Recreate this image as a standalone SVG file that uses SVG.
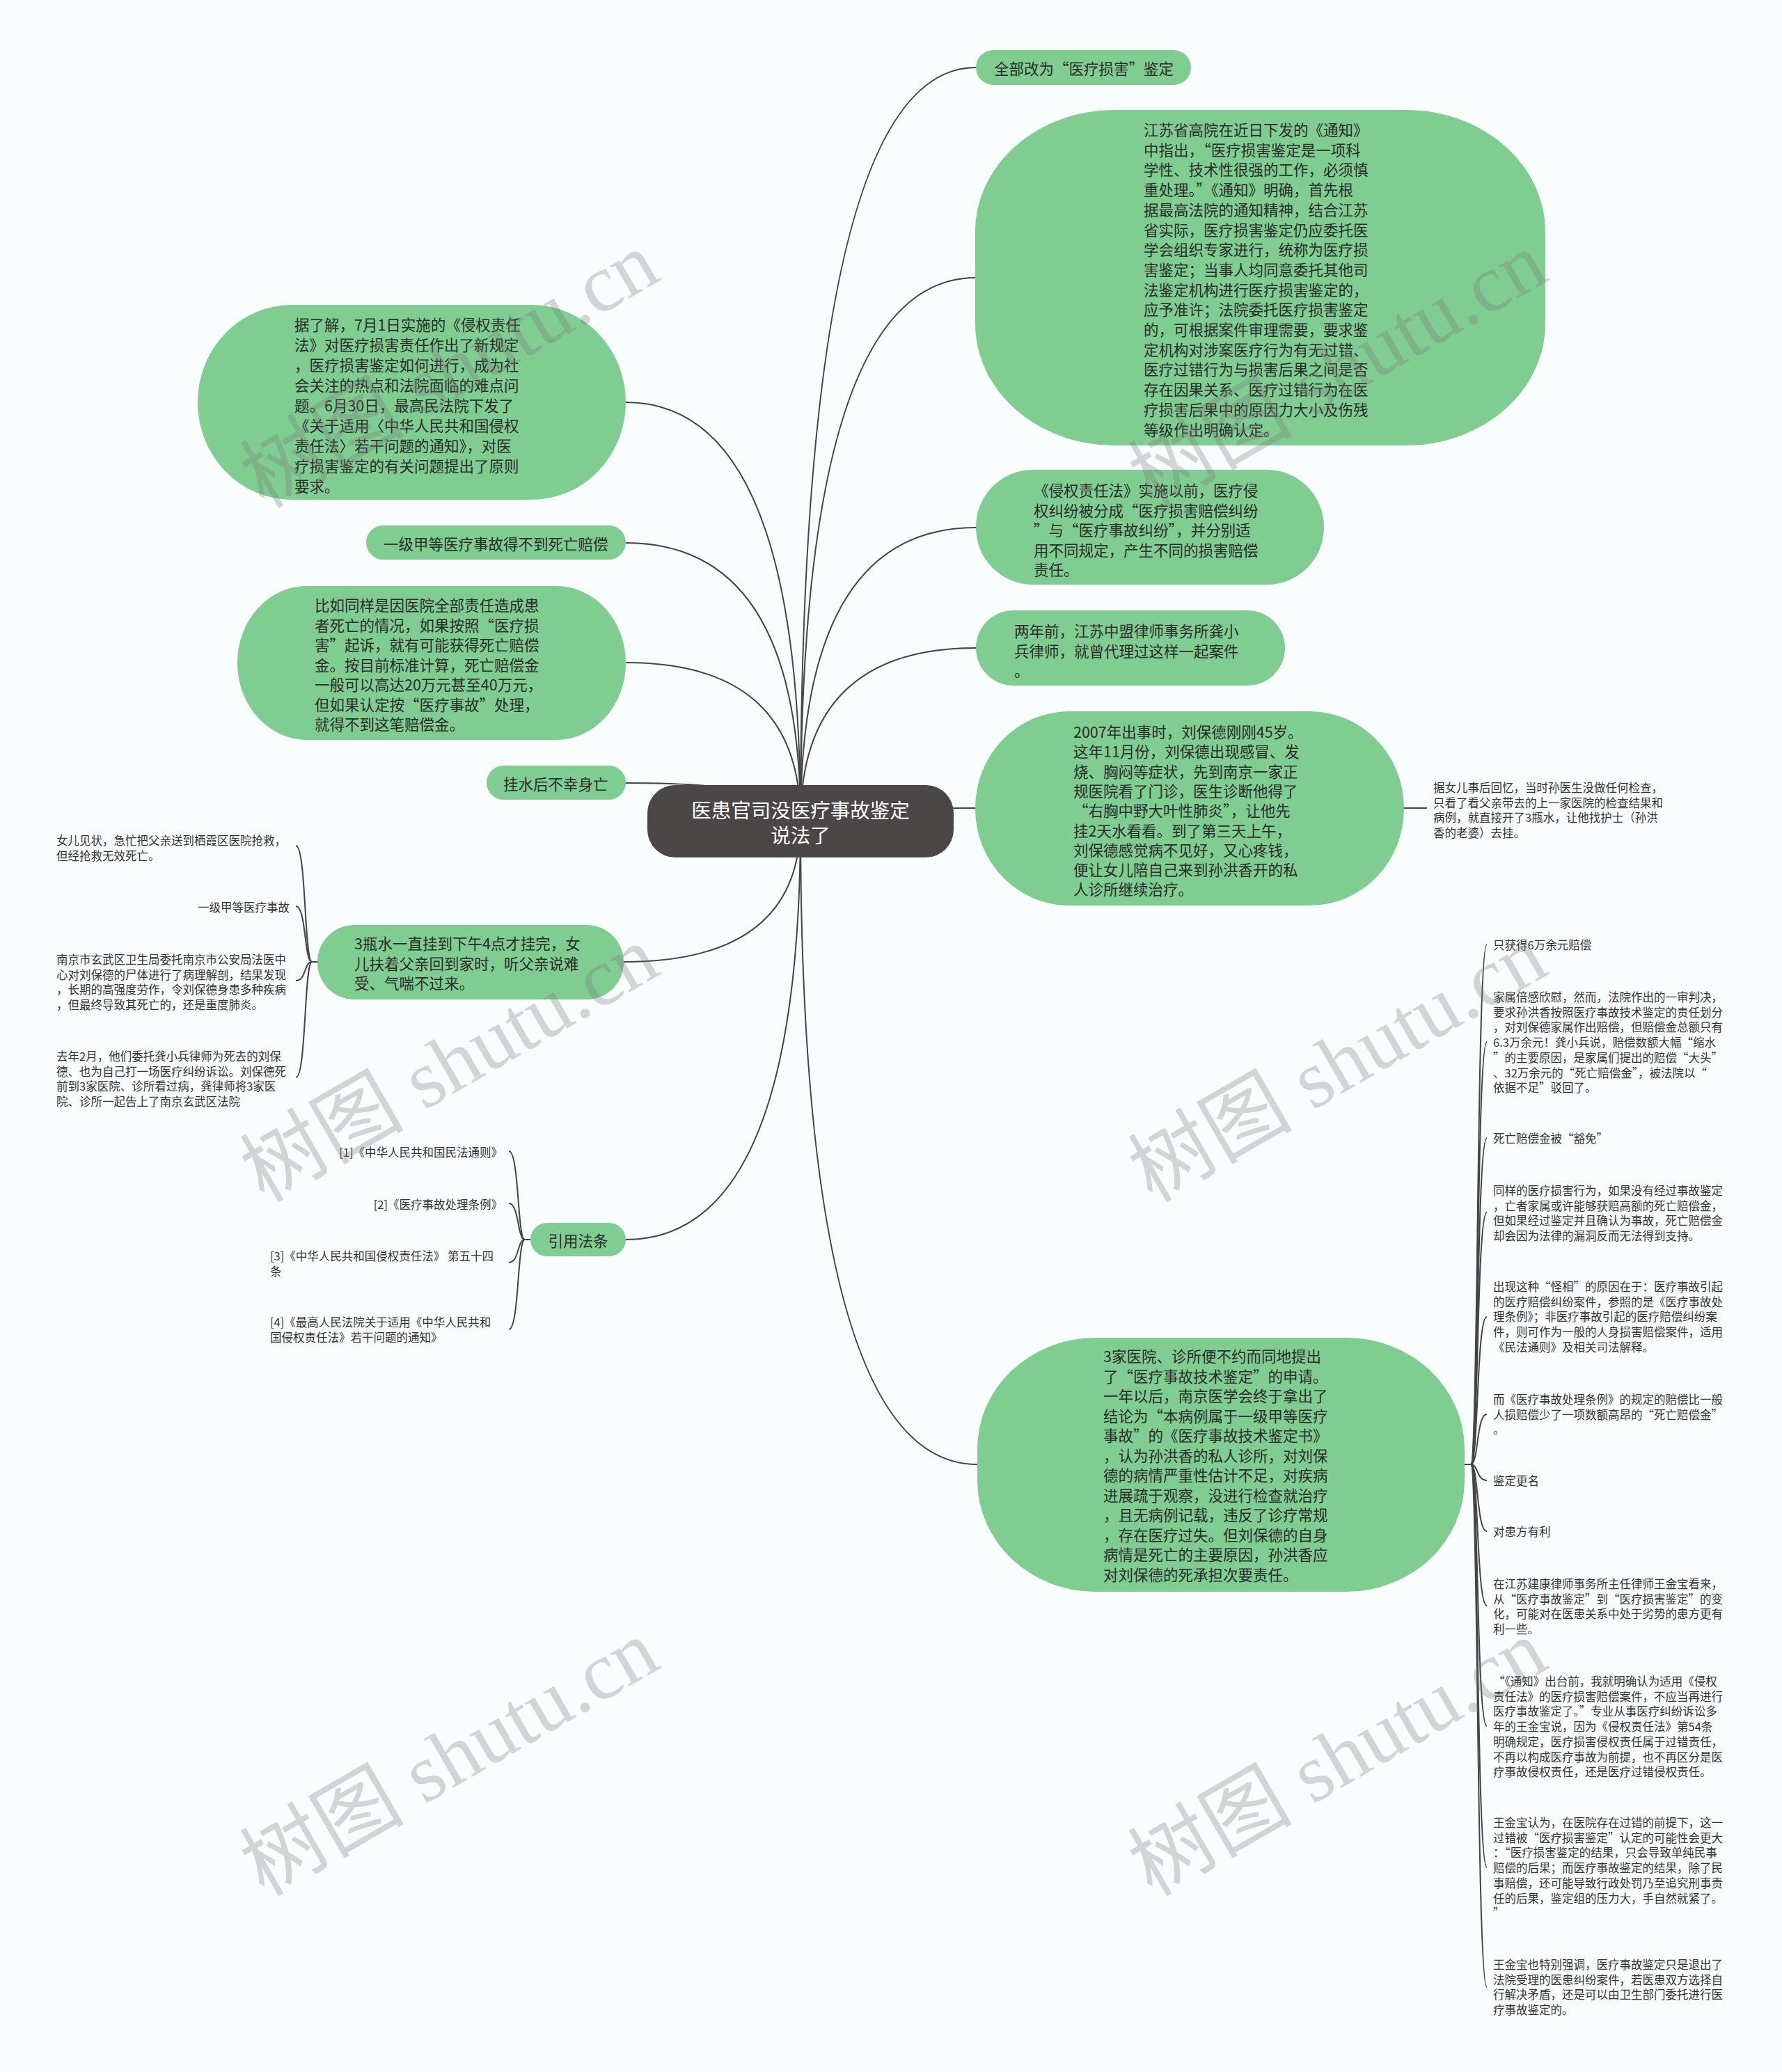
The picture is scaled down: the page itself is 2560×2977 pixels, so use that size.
<svg xmlns="http://www.w3.org/2000/svg" width="2560" height="2977" viewBox="0 0 2560 2977" xml:lang="zh-CN" lang="zh-CN">
<style>
.bg{fill:#f9fdfd}
.n{fill:#80cd91}
.root{fill:#4b4747}
.t{font-family:"Noto Sans CJK SC","Noto Sans",sans-serif;font-size:21.5px;fill:#2b2b2b;dominant-baseline:central}
.s{font-family:"Noto Sans CJK SC","Noto Sans",sans-serif;font-size:16.5px;fill:#333;dominant-baseline:central}
.rt{font-family:"Noto Sans CJK SC","Noto Sans",sans-serif;font-size:28.5px;fill:#ffffff;dominant-baseline:central;text-anchor:middle}
.c{fill:none;stroke:#444;stroke-width:2}
.wm{font-family:"Liberation Serif","Noto Sans CJK SC",serif;font-size:118px;fill:#7a7a7a;opacity:0.3;text-anchor:middle;dominant-baseline:central}
</style>
<rect class="bg" x="0" y="0" width="2560" height="2977"/>
<g id="connectors">
<path class="c" d="M1150 1180 Q1150 97 1402 97"/>
<path class="c" d="M1150 1180 Q1150 399 1402 399"/>
<path class="c" d="M1150 1180 Q1150 758 1402 758"/>
<path class="c" d="M1150 1180 Q1150 931 1402 931"/>
<path class="c" d="M1150 1180 Q1150 1161 1402 1161"/>
<path class="c" d="M1150 1180 Q1150 2104 1404 2104"/>
<path class="c" d="M1150 1180 Q1150 578 899 578"/>
<path class="c" d="M1150 1180 Q1150 780 899 780"/>
<path class="c" d="M1150 1180 Q1150 952 899 952"/>
<path class="c" d="M1150 1180 Q1150 1125 899 1125"/>
<path class="c" d="M1150 1180 Q1150 1382 896 1382"/>
<path class="c" d="M1150 1180 Q1150 1781 899 1781"/>
<path class="c" d="M2017 1161 H2050"/>
<path class="c" d="M2104 2104 H2113 C2124 2104 2121 1357 2136 1357"/>
<path class="c" d="M2104 2104 H2113 C2124 2104 2121 1497 2136 1497"/>
<path class="c" d="M2104 2104 H2113 C2124 2104 2121 1635 2136 1635"/>
<path class="c" d="M2104 2104 H2113 C2124 2104 2121 1742 2136 1742"/>
<path class="c" d="M2104 2104 H2113 C2124 2104 2121 1892 2136 1892"/>
<path class="c" d="M2104 2104 H2113 C2124 2104 2121 2032 2136 2032"/>
<path class="c" d="M2104 2104 H2113 C2124 2104 2121 2127 2136 2127"/>
<path class="c" d="M2104 2104 H2113 C2124 2104 2121 2200 2136 2200"/>
<path class="c" d="M2104 2104 H2113 C2124 2104 2121 2307 2136 2307"/>
<path class="c" d="M2104 2104 H2113 C2124 2104 2121 2480 2136 2480"/>
<path class="c" d="M2104 2104 H2113 C2124 2104 2121 2683 2136 2683"/>
<path class="c" d="M2104 2104 H2113 C2124 2104 2121 2855 2136 2855"/>
<path class="c" d="M456 1382 H448 C437 1382 440 1215 425 1215"/>
<path class="c" d="M456 1382 H448 C437 1382 440 1302 425 1302"/>
<path class="c" d="M456 1382 H448 C437 1382 440 1409 425 1409"/>
<path class="c" d="M456 1382 H448 C437 1382 440 1548 425 1548"/>
<path class="c" d="M762 1781 H754 C743 1781 746 1654 731 1654"/>
<path class="c" d="M762 1781 H754 C743 1781 746 1729 731 1729"/>
<path class="c" d="M762 1781 H754 C743 1781 746 1814 731 1814"/>
<path class="c" d="M762 1781 H754 C743 1781 746 1910 731 1910"/>
</g>
<g id="root">
<rect class="root" x="930" y="1128" width="440" height="104" rx="40"/>
<text class="rt"><tspan x="1150" y="1162">医患官司没医疗事故鉴定</tspan><tspan x="1150" y="1198">说法了</tspan></text>
</g>
<g id="n-quanbu">
<rect class="n" x="1402" y="72" width="309" height="50" rx="25"/>
<text class="t" x="1428" y="97">全部改为“医疗损害”鉴定</text>
</g>
<g id="n-jiangsu">
<rect class="n" x="1401" y="158" width="819" height="482" rx="200" ry="175"/>
<text class="t">
<tspan x="1643" y="185">江苏省高院在近日下发的《通知》</tspan>
<tspan x="1643" y="213.7">中指出，“医疗损害鉴定是一项科</tspan>
<tspan x="1643" y="242.4">学性、技术性很强的工作，必须慎</tspan>
<tspan x="1643" y="271.1">重处理。”《通知》明确，首先根</tspan>
<tspan x="1643" y="299.8">据最高法院的通知精神，结合江苏</tspan>
<tspan x="1643" y="328.5">省实际，医疗损害鉴定仍应委托医</tspan>
<tspan x="1643" y="357.2">学会组织专家进行，统称为医疗损</tspan>
<tspan x="1643" y="385.9">害鉴定；当事人均同意委托其他司</tspan>
<tspan x="1643" y="414.6">法鉴定机构进行医疗损害鉴定的，</tspan>
<tspan x="1643" y="443.3">应予准许；法院委托医疗损害鉴定</tspan>
<tspan x="1643" y="472">的，可根据案件审理需要，要求鉴</tspan>
<tspan x="1643" y="500.7">定机构对涉案医疗行为有无过错、</tspan>
<tspan x="1643" y="529.4">医疗过错行为与损害后果之间是否</tspan>
<tspan x="1643" y="558.1">存在因果关系、医疗过错行为在医</tspan>
<tspan x="1643" y="586.8">疗损害后果中的原因力大小及伤残</tspan>
<tspan x="1643" y="615.5">等级作出明确认定。</tspan>
</text>
</g>
<g id="n-qinquan">
<rect class="n" x="1402" y="675" width="500" height="165" rx="82"/>
<text class="t">
<tspan x="1485" y="703">《侵权责任法》实施以前，医疗侵</tspan>
<tspan x="1485" y="731.5">权纠纷被分成“医疗损害赔偿纠纷</tspan>
<tspan x="1485" y="760">”与“医疗事故纠纷”，并分别适</tspan>
<tspan x="1485" y="788.5">用不同规定，产生不同的损害赔偿</tspan>
<tspan x="1485" y="817">责任。</tspan>
</text>
</g>
<g id="n-liangnian">
<rect class="n" x="1402" y="877" width="444" height="108" rx="54"/>
<text class="t">
<tspan x="1457" y="905">两年前，江苏中盟律师事务所龚小</tspan>
<tspan x="1457" y="933.5">兵律师，就曾代理过这样一起案件</tspan>
<tspan x="1457" y="962">。</tspan>
</text>
</g>
<g id="n-2007">
<rect class="n" x="1401" y="1022" width="616" height="279" rx="135" ry="139"/>
<text class="t">
<tspan x="1542" y="1050">2007年出事时，刘保德刚刚45岁。</tspan>
<tspan x="1542" y="1078.3">这年11月份，刘保德出现感冒、发</tspan>
<tspan x="1542" y="1106.6">烧、胸闷等症状，先到南京一家正</tspan>
<tspan x="1542" y="1134.9">规医院看了门诊，医生诊断他得了</tspan>
<tspan x="1542" y="1163.2">“右胸中野大叶性肺炎”，让他先</tspan>
<tspan x="1542" y="1191.5">挂2天水看看。到了第三天上午，</tspan>
<tspan x="1542" y="1219.8">刘保德感觉病不见好，又心疼钱，</tspan>
<tspan x="1542" y="1248.1">便让女儿陪自己来到孙洪香开的私</tspan>
<tspan x="1542" y="1276.4">人诊所继续治疗。</tspan>
</text>
</g>
<g id="n-2007-child">
<text class="s">
<tspan x="2059" y="1131">据女儿事后回忆，当时孙医生没做任何检查，</tspan>
<tspan x="2059" y="1152.7">只看了看父亲带去的上一家医院的检查结果和</tspan>
<tspan x="2059" y="1174.4">病例，就直接开了3瓶水，让他找护士（孙洪</tspan>
<tspan x="2059" y="1196.1">香的老婆）去挂。</tspan>
</text>
</g>
<g id="n-sanjia">
<rect class="n" x="1404" y="1922" width="700" height="365" rx="170" ry="160"/>
<text class="t">
<tspan x="1585" y="1947">3家医院、诊所便不约而同地提出</tspan>
<tspan x="1585" y="1975.5">了“医疗事故技术鉴定”的申请。</tspan>
<tspan x="1585" y="2004">一年以后，南京医学会终于拿出了</tspan>
<tspan x="1585" y="2032.5">结论为“本病例属于一级甲等医疗</tspan>
<tspan x="1585" y="2061">事故”的《医疗事故技术鉴定书》</tspan>
<tspan x="1585" y="2089.5">，认为孙洪香的私人诊所，对刘保</tspan>
<tspan x="1585" y="2118">德的病情严重性估计不足，对疾病</tspan>
<tspan x="1585" y="2146.5">进展疏于观察，没进行检查就治疗</tspan>
<tspan x="1585" y="2175">，且无病例记载，违反了诊疗常规</tspan>
<tspan x="1585" y="2203.5">，存在医疗过失。但刘保德的自身</tspan>
<tspan x="1585" y="2232">病情是死亡的主要原因，孙洪香应</tspan>
<tspan x="1585" y="2260.5">对刘保德的死承担次要责任。</tspan>
</text>
</g>
<g id="r-items">
<g id="r1"><text class="s" x="2145" y="1357">只获得6万余元赔偿</text></g>
<g id="r2"><text class="s">
<tspan x="2145" y="1432">家属倍感欣慰，然而，法院作出的一审判决，</tspan>
<tspan x="2145" y="1453.7">要求孙洪香按照医疗事故技术鉴定的责任划分</tspan>
<tspan x="2145" y="1475.4">，对刘保德家属作出赔偿，但赔偿金总额只有</tspan>
<tspan x="2145" y="1497.1">6.3万余元！龚小兵说，赔偿数额大幅“缩水</tspan>
<tspan x="2145" y="1518.8">”的主要原因，是家属们提出的赔偿“大头”</tspan>
<tspan x="2145" y="1540.5">、32万余元的“死亡赔偿金”，被法院以“</tspan>
<tspan x="2145" y="1562.2">依据不足”驳回了。</tspan>
</text></g>
<g id="r3"><text class="s" x="2145" y="1635">死亡赔偿金被“豁免”</text></g>
<g id="r4"><text class="s">
<tspan x="2145" y="1710">同样的医疗损害行为，如果没有经过事故鉴定</tspan>
<tspan x="2145" y="1731.7">，亡者家属或许能够获赔高额的死亡赔偿金，</tspan>
<tspan x="2145" y="1753.4">但如果经过鉴定并且确认为事故，死亡赔偿金</tspan>
<tspan x="2145" y="1775.1">却会因为法律的漏洞反而无法得到支持。</tspan>
</text></g>
<g id="r5"><text class="s">
<tspan x="2145" y="1848">出现这种“怪相”的原因在于：医疗事故引起</tspan>
<tspan x="2145" y="1869.7">的医疗赔偿纠纷案件，参照的是《医疗事故处</tspan>
<tspan x="2145" y="1891.4">理条例》；非医疗事故引起的医疗赔偿纠纷案</tspan>
<tspan x="2145" y="1913.1">件，则可作为一般的人身损害赔偿案件，适用</tspan>
<tspan x="2145" y="1934.8">《民法通则》及相关司法解释。</tspan>
</text></g>
<g id="r6"><text class="s">
<tspan x="2145" y="2010">而《医疗事故处理条例》的规定的赔偿比一般</tspan>
<tspan x="2145" y="2031.7">人损赔偿少了一项数额高昂的“死亡赔偿金”</tspan>
<tspan x="2145" y="2053.4">。</tspan>
</text></g>
<g id="r7"><text class="s" x="2145" y="2127">鉴定更名</text></g>
<g id="r8"><text class="s" x="2145" y="2200">对患方有利</text></g>
<g id="r9"><text class="s">
<tspan x="2145" y="2275">在江苏建康律师事务所主任律师王金宝看来，</tspan>
<tspan x="2145" y="2296.7">从“医疗事故鉴定”到“医疗损害鉴定”的变</tspan>
<tspan x="2145" y="2318.4">化，可能对在医患关系中处于劣势的患方更有</tspan>
<tspan x="2145" y="2340.1">利一些。</tspan>
</text></g>
<g id="r10"><text class="s">
<tspan x="2145" y="2415">“《通知》出台前，我就明确认为适用《侵权</tspan>
<tspan x="2145" y="2436.7">责任法》的医疗损害赔偿案件，不应当再进行</tspan>
<tspan x="2145" y="2458.4">医疗事故鉴定了。”专业从事医疗纠纷诉讼多</tspan>
<tspan x="2145" y="2480.1">年的王金宝说，因为《侵权责任法》第54条</tspan>
<tspan x="2145" y="2501.8">明确规定，医疗损害侵权责任属于过错责任，</tspan>
<tspan x="2145" y="2523.5">不再以构成医疗事故为前提，也不再区分是医</tspan>
<tspan x="2145" y="2545.2">疗事故侵权责任，还是医疗过错侵权责任。</tspan>
</text></g>
<g id="r11"><text class="s">
<tspan x="2145" y="2618">王金宝认为，在医院存在过错的前提下，这一</tspan>
<tspan x="2145" y="2639.7">过错被“医疗损害鉴定”认定的可能性会更大</tspan>
<tspan x="2145" y="2661.4">：“医疗损害鉴定的结果，只会导致单纯民事</tspan>
<tspan x="2145" y="2683.1">赔偿的后果；而医疗事故鉴定的结果，除了民</tspan>
<tspan x="2145" y="2704.8">事赔偿，还可能导致行政处罚乃至追究刑事责</tspan>
<tspan x="2145" y="2726.5">任的后果，鉴定组的压力大，手自然就紧了。</tspan>
<tspan x="2145" y="2748.2">”</tspan>
</text></g>
<g id="r12"><text class="s">
<tspan x="2145" y="2822">王金宝也特别强调，医疗事故鉴定只是退出了</tspan>
<tspan x="2145" y="2843.7">法院受理的医患纠纷案件，若医患双方选择自</tspan>
<tspan x="2145" y="2865.4">行解决矛盾，还是可以由卫生部门委托进行医</tspan>
<tspan x="2145" y="2887.1">疗事故鉴定的。</tspan>
</text></g>
</g>
<g id="n-julejie">
<rect class="n" x="284" y="438" width="615" height="280" rx="135" ry="140"/>
<text class="t">
<tspan x="423" y="465">据了解，7月1日实施的《侵权责任</tspan>
<tspan x="423" y="494">法》对医疗损害责任作出了新规定</tspan>
<tspan x="423" y="523">，医疗损害鉴定如何进行，成为社</tspan>
<tspan x="423" y="552">会关注的热点和法院面临的难点问</tspan>
<tspan x="423" y="581">题。6月30日，最高民法院下发了</tspan>
<tspan x="423" y="610">《关于适用〈中华人民共和国侵权</tspan>
<tspan x="423" y="639">责任法〉若干问题的通知》，对医</tspan>
<tspan x="423" y="668">疗损害鉴定的有关问题提出了原则</tspan>
<tspan x="423" y="697">要求。</tspan>
</text>
</g>
<g id="n-yiji">
<rect class="n" x="526" y="755" width="373" height="49" rx="24.5"/>
<text class="t" x="551" y="780">一级甲等医疗事故得不到死亡赔偿</text>
</g>
<g id="n-biru">
<rect class="n" x="341" y="842" width="558" height="221" rx="100" ry="110"/>
<text class="t">
<tspan x="452" y="868">比如同样是因医院全部责任造成患</tspan>
<tspan x="452" y="896.5">者死亡的情况，如果按照“医疗损</tspan>
<tspan x="452" y="925">害”起诉，就有可能获得死亡赔偿</tspan>
<tspan x="452" y="953.5">金。按目前标准计算，死亡赔偿金</tspan>
<tspan x="452" y="982">一般可以高达20万元甚至40万元，</tspan>
<tspan x="452" y="1010.5">但如果认定按“医疗事故”处理，</tspan>
<tspan x="452" y="1039">就得不到这笔赔偿金。</tspan>
</text>
</g>
<g id="n-guashui">
<rect class="n" x="699" y="1100" width="200" height="49" rx="24.5"/>
<text class="t" x="723" y="1125">挂水后不幸身亡</text>
</g>
<g id="n-sanping">
<rect class="n" x="456" y="1329" width="440" height="107" rx="53"/>
<text class="t">
<tspan x="509" y="1354">3瓶水一直挂到下午4点才挂完，女</tspan>
<tspan x="509" y="1382.5">儿扶着父亲回到家时，听父亲说难</tspan>
<tspan x="509" y="1411">受、气喘不过来。</tspan>
</text>
</g>
<g id="l-items">
<g id="l1"><text class="s">
<tspan x="81" y="1207">女儿见状，急忙把父亲送到栖霞区医院抢救，</tspan>
<tspan x="81" y="1228.5">但经抢救无效死亡。</tspan>
</text></g>
<g id="l2"><text class="s" x="416" y="1303" text-anchor="end">一级甲等医疗事故</text></g>
<g id="l3"><text class="s">
<tspan x="81" y="1378">南京市玄武区卫生局委托南京市公安局法医中</tspan>
<tspan x="81" y="1399.7">心对刘保德的尸体进行了病理解剖，结果发现</tspan>
<tspan x="81" y="1421.4">，长期的高强度劳作，令刘保德身患多种疾病</tspan>
<tspan x="81" y="1443.1">，但最终导致其死亡的，还是重度肺炎。</tspan>
</text></g>
<g id="l4"><text class="s">
<tspan x="81" y="1517">去年2月，他们委托龚小兵律师为死去的刘保</tspan>
<tspan x="81" y="1538.7">德、也为自己打一场医疗纠纷诉讼。刘保德死</tspan>
<tspan x="81" y="1560.4">前到3家医院、诊所看过病，龚律师将3家医</tspan>
<tspan x="81" y="1582.1">院、诊所一起告上了南京玄武区法院</tspan>
</text></g>
</g>
<g id="n-yinyong">
<rect class="n" x="762" y="1757" width="137" height="48" rx="24"/>
<text class="t" x="830.5" y="1781" text-anchor="middle">引用法条</text>
</g>
<g id="law-items">
<g id="law1"><text class="s" x="722" y="1655" text-anchor="end">[1]《中华人民共和国民法通则》</text></g>
<g id="law2"><text class="s" x="722" y="1730" text-anchor="end">[2]《医疗事故处理条例》</text></g>
<g id="law3"><text class="s">
<tspan x="388" y="1804">[3]《中华人民共和国侵权责任法》 第五十四</tspan>
<tspan x="388" y="1825.5">条</tspan>
</text></g>
<g id="law4"><text class="s">
<tspan x="388" y="1899">[4]《最高人民法院关于适用《中华人民共和</tspan>
<tspan x="388" y="1920.5">国侵权责任法》若干问题的通知》</tspan>
</text></g>
</g>
<g id="watermarks">
<text class="wm" transform="translate(646 532) rotate(-30)">树图 shutu.cn</text>
<text class="wm" transform="translate(1922 532) rotate(-30)">树图 shutu.cn</text>
<text class="wm" transform="translate(646 1529) rotate(-30)">树图 shutu.cn</text>
<text class="wm" transform="translate(1922 1529) rotate(-30)">树图 shutu.cn</text>
<text class="wm" transform="translate(646 2526) rotate(-30)">树图 shutu.cn</text>
<text class="wm" transform="translate(1922 2526) rotate(-30)">树图 shutu.cn</text>
</g>
</svg>
